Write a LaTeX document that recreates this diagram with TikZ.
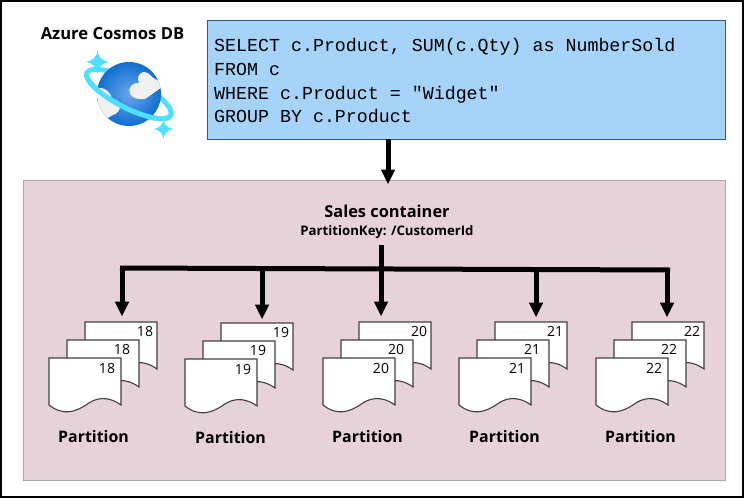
\documentclass[tikz,border=0pt]{standalone}
\usepackage{fontspec}
\setmainfont{Open Sans}
\setmonofont{Liberation Mono}
\usetikzlibrary{arrows.meta}
\definecolor{boxblue}{HTML}{A5D3F9}
\definecolor{boxedge}{HTML}{2F5597}
\definecolor{pinkfill}{HTML}{E8D2D9}
\definecolor{pinkedge}{HTML}{ADA5A8}
\definecolor{cyanring}{HTML}{50E0FF}
\definecolor{globeA}{HTML}{6AA5EE}
\definecolor{globeB}{HTML}{0F6FCF}
\definecolor{cloud}{HTML}{F0F0F0}
\tikzset{
  x=1pt,y=-1pt,
  arrowline/.style={line width=5pt,-{Triangle[length=14.5pt,width=14.5pt,line width=0pt]}},
  busline/.style={line width=5pt},
  docshape/.style={draw=black!75,fill=white,line width=1.1pt,line join=miter},
  numlabel/.style={font=\fontsize{14}{16}\selectfont,inner sep=0pt,anchor=center},
  partlabel/.style={font=\fontsize{15.9}{18}\selectfont\bfseries,inner sep=0pt,anchor=center},
  codeline/.style={font=\fontsize{18.3}{22}\selectfont\ttfamily,inner sep=0pt,anchor=base west},
  pics/sheet/.style={code={
    \path[docshape] (0,0) -- (72,0) -- (72,47)
      .. controls (58,37) and (46,40) .. (37,47)
      .. controls (26,54) and (14,58) .. (0,47) -- cycle;}}
}
\newcommand{\docstack}[4]{%
  \pic at (#2+36,#3-36) {sheet};
  \pic at (#2+18,#3-18) {sheet};
  \pic at (#2,#3) {sheet};
  \node[numlabel] (#1c) at (#2+96,#3-27) {#4};
  \node[numlabel] (#1b) at (#2+73,#3-8.5) {#4};
  \node[numlabel] (#1a) at (#2+58,#3+10.5) {#4};
  \coordinate (#1top) at (#2+73,#3-42);
}
\begin{document}
\begin{tikzpicture}
\useasboundingbox (0,0) rectangle (744,498);
\draw[line width=2pt,fill=white] (1,1) rectangle (743,497);
\node[font=\fontsize{16.6}{18}\selectfont\bfseries,inner sep=0pt] (title) at (112.5,34) {Azure Cosmos DB};
% logo
\draw[cyanring,line width=5pt,rotate around={-27:(129,94)}] (129,94) ellipse (47 and 14);
\shade[inner color=globeA,outer color=globeB] (129,94) circle (32);
\begin{scope}
  \clip (129,94) circle (32);
  \fill[cloud] (97,88) .. controls (106,87) and (111,93) .. (112,99)
     .. controls (122,99) and (123,112) .. (113,115) -- (104,120) -- (90,110) -- cycle;
  \fill[cloud] (143,72) .. controls (147,72) and (150,74) .. (152,77)
     -- (165,85) -- (145,99) -- (140,99) .. controls (130,99) and (127,90) .. (131,86)
     .. controls (134,83) and (136,83) .. (139,83) .. controls (137,78) and (138,74) .. (143,72) -- cycle;
\end{scope}
\draw[cyanring,line width=5pt,rotate around={-27:(129,94)}] (82,94) arc[start angle=180,end angle=360,x radius=47,y radius=-14];
\fill[cyanring] (97.5,50) .. controls (98,57) and (102,61) .. (109.5,62)
   .. controls (102,63) and (98,67) .. (97.5,75) .. controls (97,67) and (93,63) .. (85,62)
   .. controls (93,61) and (97,57) .. (97.5,50) -- cycle;
\fill[cyanring] (163.5,119) .. controls (164,124) and (167,128) .. (173.5,129)
   .. controls (167,130) and (164,134) .. (163.5,139) .. controls (163,134) and (160,130) .. (154,129)
   .. controls (160,128) and (163,124) .. (163.5,119) -- cycle;
% query
\node[draw=boxedge,fill=boxblue,line width=1.2pt,inner sep=0pt,anchor=north west,
      minimum width=518pt,minimum height=119pt] (query) at (207,20) {};
\node[codeline] (q1) at (214,51) {SELECT c.Product, SUM(c.Qty) as NumberSold};
\node[codeline] (q2) at (214,75) {FROM c};
\node[codeline] (q3) at (214,99) {WHERE c.Product = "Widget"};
\node[codeline] (q4) at (214,122) {GROUP BY c.Product};
% container
\node[draw=pinkedge,fill=pinkfill,line width=1pt,inner sep=0pt,anchor=north west,
      minimum width=702pt,minimum height=300pt] (container) at (23,180) {};
\draw[arrowline] (388,139) -- (388,184);
\node[font=\fontsize{16.4}{18}\selectfont\bfseries,inner sep=0pt] (sales) at (387,211) {Sales container};
\node[font=\fontsize{13.2}{14}\selectfont\bfseries,inner sep=0pt] (pk) at (387,232) {PartitionKey: /CustomerId};
% stacks
\docstack{s1}{49}{358}{18}
\docstack{s2}{185}{359}{19}
\docstack{s3}{323}{358}{20}
\docstack{s4}{459}{358}{21}
\docstack{s5}{596}{358}{22}
% bus
\coordinate (busTop) at (381,245);
\draw[busline] (120,268) -- (670,270);
\draw[arrowline] (busTop) -- (381,316);
\draw[arrowline] (122,266) -- (122,316);
\draw[arrowline] (262,268) -- (262,319);
\draw[arrowline] (536,268) -- (536,317);
\draw[arrowline] (667,268) -- (667,317);
\node[partlabel] (p1) at (93.5,437) {Partition};
\node[partlabel] (p2) at (230.5,438) {Partition};
\node[partlabel] (p3) at (367.5,437) {Partition};
\node[partlabel] (p4) at (504.5,437) {Partition};
\node[partlabel] (p5) at (640.5,437) {Partition};
\end{tikzpicture}
\end{document}
